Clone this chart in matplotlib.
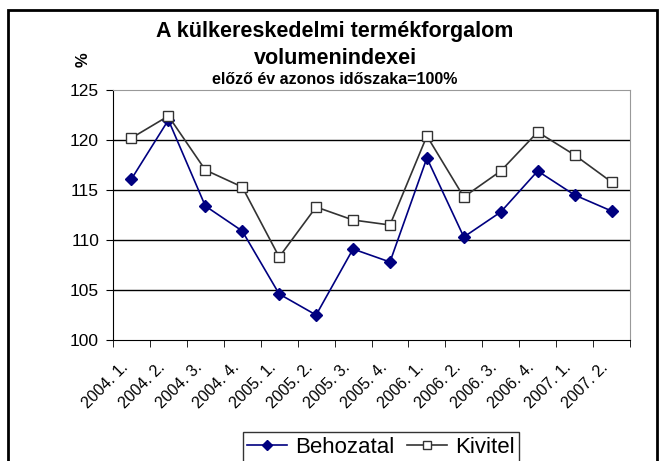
import matplotlib.pyplot as plt
import numpy as np
from matplotlib.patches import Rectangle
from matplotlib.transforms import ScaledTranslation

plt.rcParams['font.family'] = ['Liberation Sans', 'DejaVu Sans']

categories = ['2004. 1.', '2004. 2.', '2004. 3.', '2004. 4.',
              '2005. 1.', '2005. 2.', '2005. 3.', '2005. 4.',
              '2006. 1.', '2006. 2.', '2006. 3.', '2006. 4.',
              '2007. 1.', '2007. 2.']
behozatal = [116.1, 122.0, 113.4, 110.9, 104.6, 102.5, 109.1, 107.8,
             118.2, 110.3, 112.8, 116.9, 114.5, 112.9]
kivitel = [120.2, 122.4, 117.0, 115.3, 108.3, 113.3, 112.0, 111.5,
           120.4, 114.3, 116.9, 120.8, 118.5, 115.8]

fig = plt.figure(figsize=(6.64, 4.61), dpi=100)

# outer frame of the chart object
fig.patches.append(Rectangle((8 / 664, -0.05), 649 / 664, 1 - 10 / 461 + 0.05,
                             transform=fig.transFigure, fill=False,
                             edgecolor='black', linewidth=2))

ax = fig.add_axes([113 / 664, 1 - 340 / 461, 517 / 664, 250 / 461])

x = np.arange(len(categories))
ax.plot(x, behozatal, '-D', color='#000080', markersize=6, linewidth=1.2,
        label='Behozatal', zorder=3)
ax.plot(x, kivitel, '-s', color='#333333', markerfacecolor='white',
        markeredgecolor='#333333', markersize=6.5, linewidth=1.2,
        label='Kivitel', zorder=3)

ax.set_xlim(-0.5, len(categories) - 0.5)
ax.set_ylim(100, 125)
ax.set_yticks([100, 105, 110, 115, 120, 125])
ax.tick_params(axis='y', direction='out', length=5, labelsize=12.5, pad=5)
for y in [105, 110, 115, 120]:
    ax.axhline(y, color='black', linewidth=1, zorder=1)

ax.set_xticks(x)
ax.set_xticklabels(categories, rotation=45, ha='right', va='top',
                   rotation_mode='anchor', fontsize=11.5)
ax.tick_params(axis='x', which='major', length=0, pad=14)
ax.set_xticks(np.arange(len(categories) + 1) - 0.5, minor=True)
ax.tick_params(axis='x', which='minor', direction='out', length=5)
shift = ScaledTranslation(-11 / 100, 0, fig.dpi_scale_trans)
for lbl in ax.get_xticklabels():
    lbl.set_transform(lbl.get_transform() + shift)

ax.spines['left'].set_color('black')
ax.spines['bottom'].set_color('black')
ax.spines['top'].set_color('#999999')
ax.spines['right'].set_color('#999999')

fig.text(335 / 664, 1 - 32 / 461, 'A külkereskedelmi termékforgalom',
         ha='center', va='center', fontsize=15.5, fontweight='bold')
fig.text(335 / 664, 1 - 58 / 461, 'volumenindexei',
         ha='center', va='center', fontsize=15.5, fontweight='bold')
fig.text(335 / 664, 1 - 80 / 461, 'előző év azonos időszaka=100%',
         ha='center', va='center', fontsize=11.5, fontweight='bold')
fig.text(83 / 664, 1 - 60 / 461, '%', rotation=90, ha='center', va='center',
         fontsize=12, fontweight='bold')

leg = fig.legend(loc='center', bbox_to_anchor=(381 / 664, 1 - 447 / 461),
                 ncol=2, fontsize=16, frameon=True, fancybox=False,
                 edgecolor='black', handlelength=1.8, handletextpad=0.35,
                 columnspacing=0.6, borderpad=0.2, borderaxespad=0,
                 markerscale=0.8)
leg.get_frame().set_linewidth(1)

fig.savefig('out.png', dpi=100)
